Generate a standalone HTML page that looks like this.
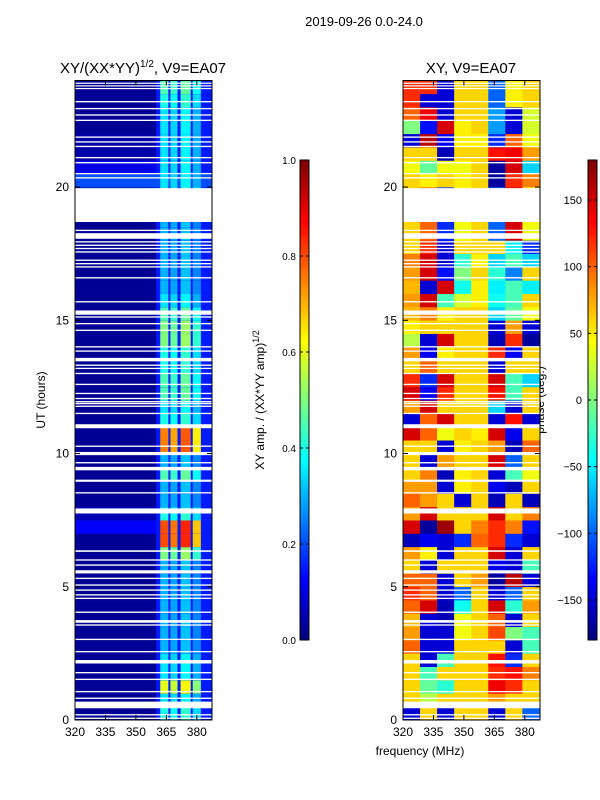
<!DOCTYPE html>
<html><head><meta charset="utf-8"><style>
html,body{margin:0;padding:0;background:#fff;}
svg{display:block;font-family:"Liberation Sans",sans-serif;}
</style></head><body>
<svg id="fig" width="600" height="800" viewBox="0 0 600 800" xmlns="http://www.w3.org/2000/svg">
<text x="364" y="26" font-size="13" text-anchor="middle">2019-09-26 0.0-24.0</text>
<text x="143" y="73" font-size="15" text-anchor="middle">XY/(XX*YY)<tspan font-size="10" dy="-6">1/2</tspan><tspan dy="6">, V9=EA07</tspan></text>
<text x="471" y="73" font-size="15" text-anchor="middle">XY, V9=EA07</text>
<text x="420" y="755" font-size="12" text-anchor="middle">frequency (MHz)</text>
<text transform="translate(45,400) rotate(-90)" font-size="12" text-anchor="middle">UT (hours)</text>
<text transform="translate(264,400) rotate(-90)" font-size="12" text-anchor="middle">XY amp. / (XX*YY amp)<tspan font-size="9" dy="-5">1/2</tspan></text>
<text transform="translate(544,400) rotate(-90)" font-size="12" text-anchor="middle">phase (deg.)</text>
<g id="left"></g>
<g id="right"></g>
<g id="cb1"></g>
<g id="cb2"></g>
</svg>
<script>
// ---- data ----
var hourBins = 48; // half-hour rows, 0..24
var leftBase = [.02,.02,.02,.02,.02,.02,.02,.02,.02,.02,.02,.02,.02,.02,.12,.05,.02,.02,.02,.02,.02,.02,.02,.02,.02,.02,.02,.02,.02,.02,.02,.02,.02,.02,.02,.02,.02,.02,.02,.02,.2,.1,.04,.04,.02,.02,.02,.02];
var leftSub = [.4,.35,.6,.35,.35,.3,.3,.3,.3,.3,.3,.3,.5,.8,.8,.4,.3,.3,.45,.3,.75,.75,.4,.35,.45,.45,.4,.4,.5,.5,.45,.35,.3,.3,.3,.3,.3,.3,.3,.45,.35,.35,.35,.35,.35,.35,.4,.45];
var subbandStart = [362,367,372,378];
var subbandEnd = [366,370.5,377,382];
var subbandScale = [1.0,0.95,1.05,0.85];
var phaseCols = [320,328.4,336.8,345.2,353.6,362,370.4,378.8,387.2];
var phase = [
[-150,60,-150,60,60,-150,60,-100],
[60,20,60,60,60,80,60,60],
[60,-10,-30,60,60,140,120,60],
[60,-20,60,60,60,120,130,90],
[60,-150,-20,60,60,130,-120,60],
[100,-150,-150,60,60,60,-150,-20],
[80,-150,-150,40,60,110,0,-20],
[70,-150,-160,40,60,100,-150,60],
[100,150,-160,-40,60,150,-30,80],
[120,100,-150,-100,60,-150,-100,60],
[100,100,-150,60,80,-170,160,-150],
[60,-150,60,60,60,-140,-150,-20],
[80,50,-150,60,60,150,-150,60],
[-160,-140,-150,-120,100,120,-120,-150],
[150,-170,170,60,90,120,90,-130],
[80,150,60,60,60,150,60,90],
[100,80,60,-150,60,-160,60,-160],
[80,80,-150,50,60,-140,-160,60],
[60,90,-160,50,60,-150,-20,40],
[60,-150,80,60,60,150,-100,60],
[60,60,-150,50,60,80,-160,100],
[150,100,40,60,50,150,-140,60],
[-150,100,150,60,60,-150,130,-150],
[80,150,60,60,60,-60,-150,60],
[150,-140,120,60,60,130,-20,60],
[120,-120,150,60,60,150,-20,-60],
[60,100,60,60,60,-150,60,60],
[80,-140,50,60,60,120,-140,60],
[20,-150,150,60,60,-160,120,-170],
[50,60,60,60,60,-150,80,-150],
[70,90,50,60,60,-60,-10,40],
[80,150,-20,30,50,-40,-20,60],
[70,-150,150,-40,50,-50,-20,-50],
[80,150,-130,0,60,-30,-90,60],
[90,150,-150,-30,50,-60,-20,-60],
[60,120,-150,60,60,60,-50,-120],
[60,100,-120,40,60,-100,150,40],
[60,100,-120,40,60,-100,150,40],
[60,100,-120,40,60,-100,150,40],
[60,100,-120,40,60,-100,150,40],
[60,50,60,50,60,-170,120,90],
[40,-10,40,40,60,-170,150,-60],
[60,60,-160,60,60,130,140,80],
[-150,160,-140,50,50,-120,100,40],
[0,-130,150,50,60,-80,-150,30],
[100,140,-150,60,60,-80,-150,30],
[120,-150,-150,60,60,-100,50,60],
[120,120,-150,60,60,-100,50,60]
];
var flags = [[0.04,0.09],[0.17,0.22],[0.44,0.69],[0.79,0.84],[1.04,1.09],[1.5,1.55],[1.75,1.8],[2.12,2.25],[2.54,2.59],[3.0,3.05],[3.54,3.59],[3.65,3.75],[4.02,4.07],[4.54,4.59],[4.67,4.72],[4.85,4.9],[5.04,5.09],[5.29,5.34],[5.5,5.62],[5.79,5.84],[5.98,6.03],[6.31,6.37],[7.75,7.94],[8.5,8.55],[8.94,9.02],[9.37,9.5],[9.63,9.68],[9.94,10.06],[10.25,10.3],[10.95,11.1],[11.48,11.53],[11.75,11.8],[11.85,11.9],[11.92,11.97],[12.04,12.09],[12.23,12.28],[12.57,12.62],[12.98,13.03],[13.17,13.22],[13.29,13.34],[13.46,13.59],[13.82,13.87],[13.98,14.03],[14.6,14.65],[14.85,14.9],[15.1,15.15],[15.21,15.37],[15.67,15.72],[16.57,16.62],[16.98,17.03],[17.1,17.15],[17.23,17.28],[17.54,17.59],[17.67,17.72],[17.79,17.84],[17.92,17.97],[18.06,18.27],[18.35,18.4],[18.69,19.96],[20.32,20.37],[20.48,20.53],[20.89,20.94],[21.08,21.13],[21.5,21.55],[21.67,21.72],[21.85,21.9],[22.48,22.53],[22.68,22.73],[22.92,22.97],[23.18,23.23],[23.68,23.72],[23.78,23.82],[23.88,23.92]];
var yTicks = [0,5,10,15,20];
var xTicks = [320,335,350,365,380];
var ampTicks = [0.0,0.2,0.4,0.6,0.8,1.0];
var phaseTicks = [-150,-100,-50,0,50,100,150];

// ---- helpers ----
var NS="http://www.w3.org/2000/svg";
function jet(v){v=Math.max(0,Math.min(1,v));
 function c(x){return Math.round(255*Math.max(0,Math.min(1,x)));}
 var r=c(1.5-Math.abs(4*v-3)),g=c(1.5-Math.abs(4*v-2)),b=c(1.5-Math.abs(4*v-1));
 return "rgb("+r+","+g+","+b+")";}
function mk(tag,attrs,parent){var e=document.createElementNS(NS,tag);for(var k in attrs)e.setAttribute(k,attrs[k]);parent.appendChild(e);return e;}
var PY0=80.5,PY1=720;
function yS(h){return PY1-(h/24)*(PY1-PY0);}
function xS(px0,f){return px0+(f-320)*2.03;}

function panel(gid,px0,fill){
 var g=document.getElementById(gid),px1=px0+137;
 fill(g,px0,px1);
 for(var i=0;i<flags.length;i++){
  var r=mk('rect',{x:px0,y:yS(flags[i][1]),width:137,height:Math.max(1.2,yS(flags[i][0])-yS(flags[i][1])),fill:'#fff'},g);
  
  
 }
 var fr=mk('rect',{x:px0,y:PY0,width:137,height:PY1-PY0,fill:'none',stroke:'#000','stroke-width':1},g);
 
 
 for(var t=0;t<yTicks.length;t++){var y=yS(yTicks[t]);
  mk('line',{x1:px0,x2:px0+5,y1:y,y2:y,stroke:'#000'},g);mk('line',{x1:px1-5,x2:px1,y1:y,y2:y,stroke:'#000'},g);
  var tl=mk('text',{x:px0-6,y:y+4,'font-size':12,'text-anchor':'end'},g);tl.textContent=yTicks[t];
  
  }
 for(var t=0;t<xTicks.length;t++){var x=xS(px0,xTicks[t]);
  mk('line',{x1:x,x2:x,y1:PY1,y2:PY1-5,stroke:'#000'},g);mk('line',{x1:x,x2:x,y1:PY0,y2:PY0+5,stroke:'#000'},g);
  var xl=mk('text',{x:x,y:PY1+16,'font-size':12,'text-anchor':'middle'},g);xl.textContent=xTicks[t];
  
  }
}
panel('left',75,function(g,px0,px1){
 for(var i=0;i<hourBins;i++){var y0=yS(i/2+0.5),h=yS(i/2)-y0;
  var c=mk('rect',{x:px0,y:y0,width:137,height:h+0.3,fill:jet(leftBase[i])},g);
  
  
  var gap=mk('rect',{x:xS(px0,360),y:y0,width:px1-xS(px0,360),height:h+0.3,fill:jet(Math.max(leftBase[i],0.15))},g);
  
  
  for(var s=0;s<subbandStart.length;s++){
   var xa=xS(px0,subbandStart[s]),xb=xS(px0,subbandEnd[s]);
   var sc=mk('rect',{x:xa,y:y0,width:xb-xa,height:h+0.3,fill:jet(leftSub[i]*subbandScale[s])},g);
   
   }
 }});
panel('right',403,function(g,px0,px1){
 for(var i=0;i<hourBins;i++){var y0=yS(i/2+0.5),h=yS(i/2)-y0;
  for(var j=0;j<phaseCols.length-1;j++){
   var xa=xS(px0,phaseCols[j]),xb=Math.min(px1,xS(px0,phaseCols[j+1]));
   var c=mk('rect',{x:xa,y:y0,width:xb-xa+0.3,height:h+0.3,fill:jet((phase[i][j]+180)/360)},g);
   
   }
 }});
function colorbar(gid,x0,ticks,lo,hi,fmt){
 var g=document.getElementById(gid),y0=160,y1=640;
 for(var k=0;k<240;k++){mk('rect',{x:x0,y:y1-(k+1)*2,width:9,height:2.3,fill:jet(k/239)},g);}
 mk('rect',{x:x0,y:y0,width:9,height:y1-y0,fill:'none',stroke:'#000'},g);
 for(var t=0;t<ticks.length;t++){var y=y1-(ticks[t]-lo)/(hi-lo)*(y1-y0);
  mk('line',{x1:x0,x2:x0+3,y1:y,y2:y,stroke:'#000'},g);mk('line',{x1:x0+6,x2:x0+9,y1:y,y2:y,stroke:'#000'},g);
  var l=mk('text',{x:x0+(fmt?-4:-6),y:y+4,'font-size':fmt?10:11,'text-anchor':'end'},g);
  l.textContent=fmt?ticks[t].toFixed(1):(ticks[t]<0?'\u2212'+(-ticks[t]):ticks[t]);
  
  }
}
colorbar('cb1',300,ampTicks,0,1,true);
colorbar('cb2',588,phaseTicks,-180,180,false);
</script>
</body></html>
